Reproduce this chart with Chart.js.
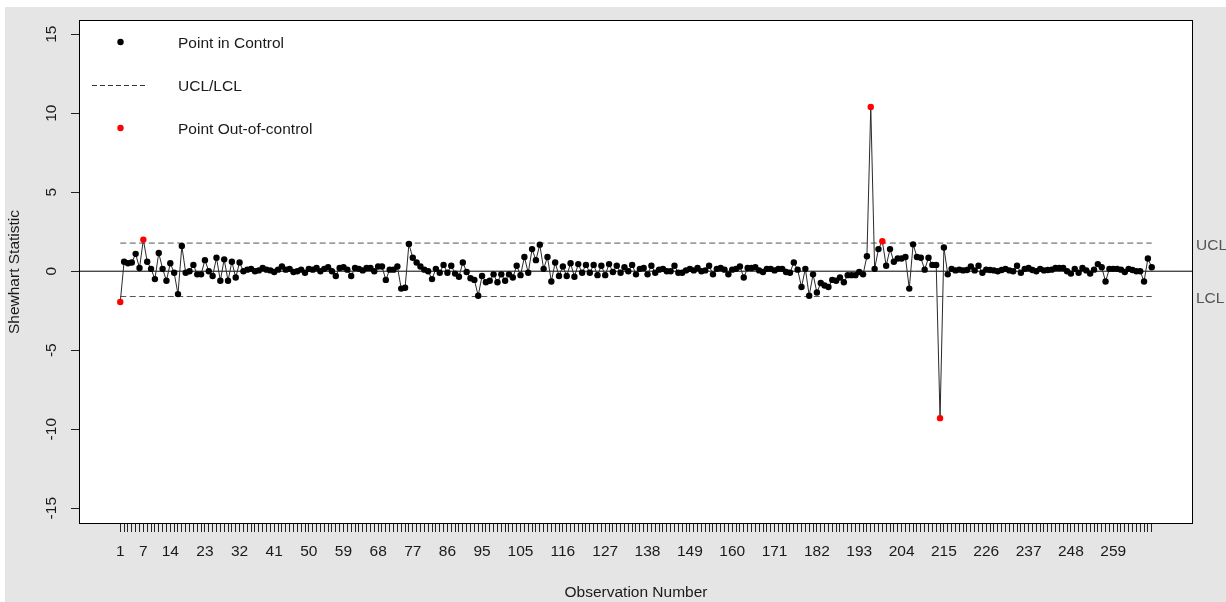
<!DOCTYPE html>
<html>
<head>
<meta charset="utf-8">
<script src="https://cdn.jsdelivr.net/npm/chart.js@4.4.1/dist/chart.umd.min.js"></script>
<style>
  html, body { margin: 0; padding: 0; background: #fff; }
  canvas { display: block; }
</style>
</head>
<body>
<canvas id="shewhart-chart" width="1226" height="602"></canvas>
<script>
// shewhart statistic per observation
const statValues = [
  -1.95, 0.6, 0.5, 0.55, 1.1, 0.2, 2.0, 0.6, 0.15, -0.5, 1.15, 0.15, -0.6, 0.5, -0.1, -1.45,
  1.6, -0.1, 0.0, 0.4, -0.2, -0.2, 0.7, 0.0, -0.3, 0.85, -0.6, 0.75, -0.6, 0.6, -0.4, 0.55,
  0.0, 0.1, 0.15, 0.0, 0.05, 0.2, 0.1, 0.05, -0.05, 0.1, 0.3, 0.1, 0.15, -0.05, 0.0, 0.1,
  -0.1, 0.15, 0.1, 0.2, 0.0, 0.15, 0.25, 0.0, -0.3, 0.2, 0.25, 0.1, -0.3, 0.2, 0.15, 0.05, 0.2,
  0.2, 0.0, 0.3, 0.3, -0.55, 0.1, 0.1, 0.3, -1.1, -1.05, 1.72, 0.85, 0.55, 0.3, 0.1, 0.0,
  -0.5, 0.15, -0.1, 0.4, -0.1, 0.35, -0.15, -0.35, 0.55, -0.05, -0.45, -0.55, -1.55, -0.3,
  -0.7, -0.6, -0.2, -0.7, -0.2,
  -0.6, -0.2, -0.4, 0.35, -0.25, 0.9, -0.1, 1.4, 0.7, 1.68, 0.15, 0.9, -0.65, 0.55, -0.3, 0.3,
  -0.3, 0.5, -0.35, 0.45, -0.1, 0.4, -0.1, 0.4, -0.25, 0.35, -0.25, 0.45, -0.05, 0.35, -0.1,
  0.25, 0.0, 0.4,
  -0.2, 0.15, 0.2, -0.2, 0.35, -0.1, 0.1, 0.15, 0.0, 0.0, 0.35, -0.1, -0.1, 0.05, 0.15, 0.05,
  0.2, 0.0, 0.05, 0.35, -0.2, 0.15, 0.2, 0.1, -0.2, 0.1, 0.15, 0.3, -0.4, 0.2, 0.2, 0.25, 0.05,
  -0.05, 0.15, 0.15, 0.05, 0.15, 0.15, -0.05, -0.1, 0.55, 0.1, -1.0, 0.15, -1.55, -0.2, -1.35,
  -0.75, -0.9, -1.0, -0.55, -0.6, -0.4, -0.7, -0.25, -0.25, -0.25, -0.05, -0.2, 0.95, 10.4,
  0.15, 1.4, 1.9, 0.35, 1.4, 0.6, 0.8, 0.8, 0.9, -1.1, 1.7, 0.9, 0.85, 0.1, 0.85, 0.4, 0.4,
  -9.3, 1.5,
  -0.2, 0.15, 0.05, 0.1, 0.05, 0.08, 0.3, 0.05, 0.35, -0.1, 0.1, 0.08, 0.05, 0.0, 0.08, 0.15,
  0.05, 0.0, 0.35,
  -0.1, 0.15, 0.2, 0.08, 0.0, 0.15, 0.05, 0.08, 0.1, 0.2, 0.2, 0.2, 0.0, -0.15, 0.15, -0.1,
  0.2, 0.05, -0.15, 0.1, 0.45, 0.25, -0.65, 0.15, 0.15, 0.15, 0.1, -0.05, 0.15, 0.08, 0.0,
  0.0, -0.65, 0.8, 0.25
];
const ucl = 1.78;
const lcl = -1.6;
const centerValue = 0;
const xTickLabels = [1, 7, 14, 23, 32, 41, 50, 59, 68, 77, 86, 95, 105, 116, 127, 138, 149,
  160, 171, 182, 193, 204, 215, 226, 237, 248, 259];
const yTicks = [-15, -10, -5, 0, 5, 10, 15];
const legendLabels = ["Point in Control", "UCL/LCL", "Point Out-of-control"];

const n = statValues.length;
const obsNumbers = statValues.map((v, i) => i + 1);
const xPad = (n - 1) * 0.04; // R style axis padding
const xMin = 1 - xPad;
const xMax = n + xPad;

const FONT = "'Liberation Sans', Arial, sans-serif";
const FONT_SIZE = 15.5;
const TEXT = "#1a1a1a";
const GREY = "#555";

const points = statValues.map((v, i) => ({ x: obsNumbers[i], y: v }));
const pointColors = statValues.map(v => (v > ucl || v < lcl) ? "#ff0000" : "#000000");

// background, frame, rotated y labels, legend and margin text
const rFrame = {
  id: "rFrame",
  beforeDraw(chart) {
    const { ctx, chartArea: a } = chart;
    ctx.save();
    ctx.fillStyle = "#e5e5e5";
    ctx.fillRect(5, 7, chart.width - 5, chart.height - 7);
    ctx.fillStyle = "#ffffff";
    ctx.fillRect(a.left, a.top, a.right - a.left, a.bottom - a.top);
    ctx.restore();
  },
  afterDraw(chart) {
    const { ctx, chartArea: a } = chart;
    const ys = chart.scales.y;
    ctx.save();
    ctx.strokeStyle = "#000";
    ctx.lineWidth = 1;
    ctx.strokeRect(a.left + 0.5, a.top + 0.5, a.right - a.left - 1, a.bottom - a.top - 1);

    ctx.font = FONT_SIZE + "px " + FONT;
    ctx.fillStyle = TEXT;
    ctx.textAlign = "center";
    ctx.textBaseline = "middle";
    yTicks.forEach(v => {
      ctx.save();
      ctx.translate(a.left - 27, ys.getPixelForValue(v));
      ctx.rotate(-Math.PI / 2);
      ctx.fillText(String(v), 0, 0);
      ctx.restore();
    });

    // legend
    ctx.textAlign = "left";
    const symX = 120.5, txtX = 178;
    const rows = [42, 85.5, 128];
    ctx.fillStyle = "#000";
    ctx.beginPath(); ctx.arc(symX, rows[0], 3.2, 0, 2 * Math.PI); ctx.fill();
    ctx.strokeStyle = "#333";
    ctx.setLineDash([5, 3]);
    ctx.beginPath(); ctx.moveTo(92, rows[1]); ctx.lineTo(146, rows[1]); ctx.stroke();
    ctx.setLineDash([]);
    ctx.fillStyle = "#ff0000";
    ctx.beginPath(); ctx.arc(symX, rows[2], 3.2, 0, 2 * Math.PI); ctx.fill();
    ctx.fillStyle = TEXT;
    legendLabels.forEach((t, i) => ctx.fillText(t, txtX, rows[i] + 1.5));

    // control limit names in right margin
    ctx.fillStyle = GREY;
    ctx.fillText("UCL", a.right + 3, ys.getPixelForValue(ucl) + 2.5);
    ctx.fillText("LCL", a.right + 3, ys.getPixelForValue(lcl) + 2.5);
    ctx.restore();
  }
};

new Chart(document.getElementById("shewhart-chart"), {
  type: "line",
  data: {
    datasets: [
      {
        data: points,
        borderColor: "#2a2a2a",
        borderWidth: 1,
        pointRadius: 3.2,
        pointBorderWidth: 0,
        pointBackgroundColor: pointColors,
        pointBorderColor: pointColors,
        tension: 0,
      },
      {
        data: [{ x: 1, y: ucl }, { x: n, y: ucl }],
        borderColor: GREY,
        borderWidth: 1,
        borderDash: [6, 3.5],
        pointRadius: 0,
      },
      {
        data: [{ x: 1, y: lcl }, { x: n, y: lcl }],
        borderColor: GREY,
        borderWidth: 1,
        borderDash: [6, 3.5],
        pointRadius: 0,
      },
      {
        data: [{ x: xMin, y: centerValue }, { x: xMax, y: centerValue }],
        borderColor: "#000",
        borderWidth: 1,
        pointRadius: 0,
      },
    ],
  },
  options: {
    responsive: false,
    animation: false,
    devicePixelRatio: 1,
    layout: { padding: { top: 20, right: 33, left: 0, bottom: 0 } },
    plugins: {
      legend: { display: false },
      tooltip: { enabled: false },
    },
    scales: {
      x: {
        type: "linear",
        min: xMin,
        max: xMax,
        afterBuildTicks: scale => { scale.ticks = obsNumbers.map(v => ({ value: v })); },
        afterFit: scale => { scale.height = 78; },
        grid: { drawOnChartArea: false, drawTicks: true, tickLength: 8, color: "#222" },
        border: { display: false },
        ticks: {
          autoSkip: false,
          maxRotation: 0,
          minRotation: 0,
          padding: 10.5,
          color: TEXT,
          font: { family: FONT, size: FONT_SIZE },
          callback: v => xTickLabels.includes(v) ? String(v) : "",
        },
        title: {
          display: true,
          text: "Observation Number",
          color: TEXT,
          font: { family: FONT, size: FONT_SIZE },
          padding: { top: 0, bottom: 0 },
        },
      },
      y: {
        min: -16.0,
        max: 15.9,
        afterBuildTicks: scale => { scale.ticks = yTicks.map(v => ({ value: v })); },
        afterFit: scale => { scale.width = 79; },
        grid: { drawOnChartArea: false, drawTicks: true, tickLength: 8, color: "#222" },
        border: { display: false },
        ticks: { display: false },
        title: {
          display: true,
          text: "Shewhart Statistic",
          color: TEXT,
          font: { family: FONT, size: FONT_SIZE },
          padding: { top: 5, bottom: 0 },
        },
      },
    },
  },
  plugins: [rFrame],
});
</script>
</body>
</html>
